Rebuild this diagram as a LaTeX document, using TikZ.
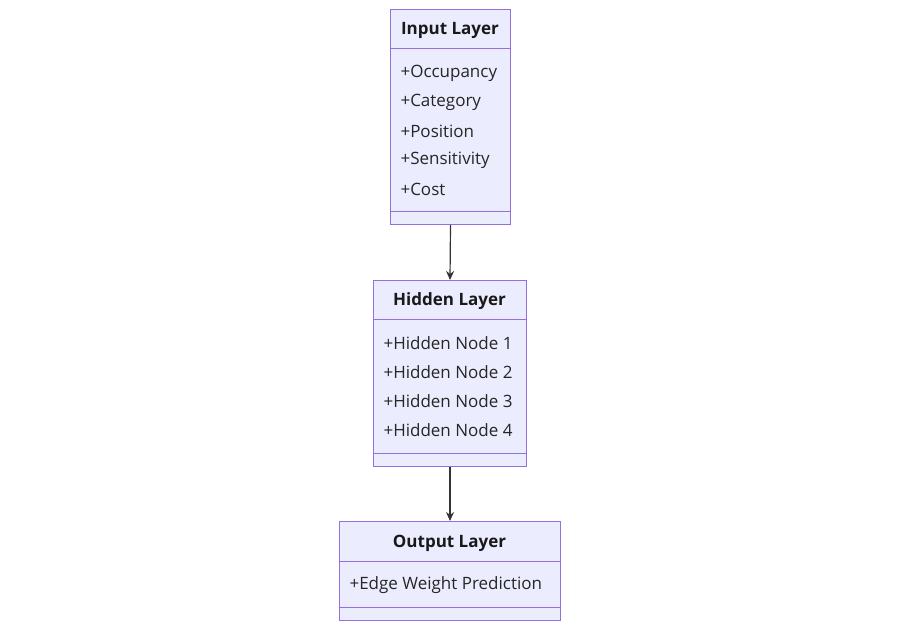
\documentclass[tikz,border=0pt]{standalone}
\usepackage{fontspec}
\setmainfont{Open Sans}
\usetikzlibrary{positioning, arrows.meta}
\definecolor{boxfill}{HTML}{ECECFF}
\definecolor{boxline}{HTML}{9370DB}
\definecolor{arrowc}{HTML}{333333}
\tikzset{
	classbox/.style={draw=boxline, fill=boxfill, line width=1pt, inner sep=0pt, anchor=north west},
	title/.style={font=\fontsize{17}{20}\selectfont\bfseries, text=black!90},
	attr/.style={font=\fontsize{17}{20}\selectfont, text=black!85, anchor=west},
	link/.style={draw=arrowc, line width=1.2pt, -{Stealth[length=9pt,width=8pt]}},
}
\begin{document}
\begin{tikzpicture}[x=1pt, y=-1pt]
	\useasboundingbox (0,0) rectangle (900,629);

	% input layer
	\node[classbox, minimum width=120pt, minimum height=215pt] (input) at (390,9) {};
	\draw[boxline, line width=1pt] (390,48) -- (510,48) (390,211) -- (510,211);
	\node[title] (inputlbl) at (450,30) {Input Layer};
	\foreach \t [count=\i] in {Occupancy, Category, Position, Sensitivity, Cost}
		\node[attr] (in\i) at (397,44+29*\i) {+\t};

	% hidden layer
	\node[classbox, minimum width=153pt, minimum height=186pt] (hidden) at (373,280) {};
	\draw[boxline, line width=1pt] (373,319) -- (526,319) (373,453) -- (526,453);
	\node[title] (hiddenlbl) at (449.5,301) {Hidden Layer};
	\foreach \i in {1,...,4}
		\node[attr] (hn\i) at (380,314+29*\i) {+Hidden Node \i};

	% output layer
	\node[classbox, minimum width=221pt, minimum height=99pt] (output) at (339,521) {};
	\draw[boxline, line width=1pt] (339,561) -- (560,561) (339,607) -- (560,607);
	\node[title] (outputlbl) at (449.5,543) {Output Layer};
	\node[attr] (out1) at (346,585) {+Edge Weight Prediction};

	\draw[link] (input.south) -- (hidden.north);
	\draw[link] (hidden.south) -- (output.north);
\end{tikzpicture}
\end{document}
